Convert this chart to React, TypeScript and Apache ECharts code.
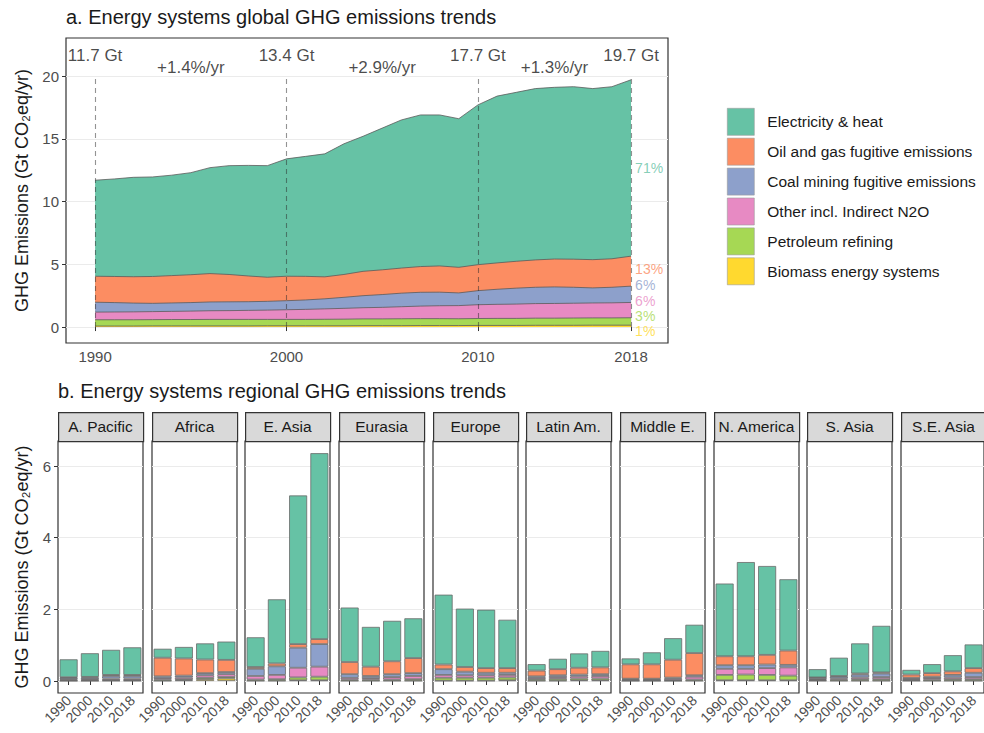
import React, { useEffect, useRef } from "react";
import * as echarts from "echarts";

// ---------- Data: panel a (global, Gt CO2eq/yr) ----------
const years = [1990,1991,1992,1993,1994,1995,1996,1997,1998,1999,2000,2001,2002,2003,2004,2005,2006,2007,2008,2009,2010,2011,2012,2013,2014,2015,2016,2017,2018];
const biomass = [0.08,0.08,0.08,0.09,0.09,0.09,0.09,0.09,0.09,0.1,0.1,0.1,0.1,0.1,0.11,0.11,0.11,0.12,0.12,0.12,0.13,0.13,0.13,0.14,0.14,0.14,0.15,0.15,0.15];
const petroleum = [0.5,0.5,0.5,0.5,0.51,0.51,0.52,0.52,0.52,0.51,0.51,0.51,0.52,0.53,0.54,0.54,0.55,0.55,0.55,0.54,0.55,0.56,0.56,0.57,0.57,0.58,0.58,0.58,0.59];
const otherN2O = [0.61,0.62,0.63,0.64,0.65,0.67,0.69,0.7,0.72,0.74,0.77,0.8,0.83,0.86,0.89,0.92,0.96,1.0,1.03,1.05,1.1,1.12,1.14,1.16,1.17,1.18,1.19,1.2,1.22];
const coal = [0.79,0.75,0.7,0.66,0.67,0.68,0.7,0.7,0.69,0.7,0.72,0.75,0.8,0.88,0.96,1.02,1.08,1.1,1.08,1.01,1.12,1.2,1.27,1.3,1.32,1.27,1.2,1.24,1.3];
const oilGas = [2.07,2.08,2.1,2.14,2.18,2.22,2.26,2.18,2.05,1.92,1.95,1.88,1.75,1.82,1.94,1.97,2.0,2.05,2.09,2.04,2.07,2.1,2.14,2.18,2.22,2.24,2.25,2.27,2.39];
const electricity = [7.65,7.77,7.92,7.93,8.0,8.13,8.44,8.67,8.81,8.89,9.35,9.56,9.8,10.41,10.76,11.29,11.8,12.08,12.03,11.84,12.73,13.29,13.46,13.65,13.68,13.74,13.63,13.71,14.05];

// stacking order bottom -> top
const seriesNames = [
  "Biomass energy systems",
  "Petroleum refining",
  "Other incl. Indirect N2O",
  "Coal mining fugitive emissions",
  "Oil and gas fugitive emissions",
  "Electricity & heat",
];
const globalSeries = [biomass, petroleum, otherN2O, coal, oilGas, electricity];
const colors = ["#ffd92f", "#a6d854", "#e78ac3", "#8da0cb", "#fc8d62", "#66c2a5"];

const markYears = [1990, 2000, 2010, 2018];
const totalLabels = ["11.7 Gt", "13.4 Gt", "17.7 Gt", "19.7 Gt"];
const growthYears = [1995, 2005, 2014];
const growthLabels = ["+1.4%/yr", "+2.9%/yr", "+1.3%/yr"];
const shareLabels = ["1%", "3%", "6%", "6%", "13%", "71%"];

// ---------- Data: panel b (regional) ----------
const regions = ["A. Pacific", "Africa", "E. Asia", "Eurasia", "Europe", "Latin Am.", "Middle E.", "N. America", "S. Asia", "S.E. Asia"];
const barYears = ["1990", "2000", "2010", "2018"];
const regBiomass = [
  [0.005,0.005,0.01,0.01],[0.01,0.02,0.05,0.07],[0.01,0.01,0.02,0.02],[0.01,0.01,0.01,0.01],[0.01,0.01,0.01,0.02],
  [0.01,0.01,0.02,0.02],[0.005,0.005,0.005,0.01],[0.02,0.02,0.02,0.02],[0.01,0.01,0.01,0.01],[0.01,0.01,0.01,0.01],
];
const regPetroleum = [
  [0.02,0.02,0.02,0.02],[0.03,0.03,0.04,0.04],[0.03,0.04,0.08,0.1],[0.03,0.03,0.03,0.04],[0.08,0.08,0.08,0.08],
  [0.04,0.05,0.05,0.05],[0.02,0.02,0.02,0.03],[0.15,0.16,0.15,0.13],[0.02,0.03,0.04,0.04],[0.02,0.03,0.04,0.04],
];
const regOther = [
  [0.02,0.03,0.04,0.04],[0.04,0.05,0.07,0.08],[0.1,0.12,0.27,0.28],[0.05,0.04,0.07,0.09],[0.08,0.07,0.07,0.07],
  [0.04,0.05,0.06,0.07],[0.02,0.02,0.04,0.08],[0.17,0.16,0.19,0.23],[0.02,0.03,0.05,0.06],[0.03,0.04,0.05,0.06],
];
const regCoal = [
  [0.04,0.04,0.07,0.07],[0.05,0.05,0.06,0.06],[0.2,0.24,0.56,0.63],[0.1,0.06,0.08,0.08],[0.16,0.1,0.07,0.06],
  [0.04,0.05,0.05,0.05],[0.02,0.02,0.03,0.04],[0.1,0.1,0.1,0.07],[0.04,0.05,0.08,0.1],[0.03,0.04,0.07,0.12],
];
const regOilGas = [
  [0.02,0.02,0.03,0.03],[0.52,0.48,0.38,0.34],[0.05,0.08,0.1,0.14],[0.34,0.26,0.36,0.42],[0.13,0.13,0.13,0.13],
  [0.16,0.17,0.19,0.19],[0.4,0.4,0.5,0.62],[0.25,0.25,0.27,0.4],[0.01,0.02,0.03,0.03],[0.09,0.1,0.1,0.13],
];
const regElectricity = [
  [0.5,0.66,0.7,0.77],[0.25,0.32,0.45,0.51],[0.83,1.79,4.15,5.19],[1.52,1.11,1.13,1.11],[1.95,1.63,1.63,1.35],
  [0.18,0.29,0.4,0.46],[0.165,0.335,0.6,0.79],[2.03,2.63,2.48,1.99],[0.23,0.51,0.84,1.3],[0.13,0.25,0.45,0.66],
];
const regionalSeries = [regBiomass, regPetroleum, regOther, regCoal, regOilGas, regElectricity];

// ---------- Layout ----------
const FONT = "'Liberation Sans', Arial, Helvetica, sans-serif";
const TOP = { left: 66, top: 38, width: 602, height: 305 };
const FACET = { left0: 58, step: 93.67, width: 85, stripTop: 412, top: 441, height: 252 };
const totalLabelY = 21.65;
const growthLabelY = 20.65;
const shareLabelY = [-0.32, 0.88, 2.08, 3.35, 4.62, 12.7];
const yTitle = "GHG Emissions (Gt CO\u2082eq/yr)";

export default function App() {
  const ref = useRef<HTMLDivElement>(null);

  useEffect(() => {
    if (!ref.current) return;
    const chart = echarts.init(ref.current, undefined, { renderer: "svg" });

    // cumulative sums (bottom -> top) for the layered area chart
    const cumulative = globalSeries.map((_, si) =>
      years.map((_, i) => {
        let s = 0;
        for (let k = 0; k <= si; k++) s += globalSeries[k][i];
        return Math.round(s * 1000) / 1000;
      })
    );

    const grids: any[] = [
      { left: TOP.left, top: TOP.top, width: TOP.width, height: TOP.height, show: true, borderColor: "#333", borderWidth: 1.2 },
    ];
    const xAxes: any[] = [
      {
        type: "value", gridIndex: 0, min: 1988.48, max: 2019.93,
        axisLine: { show: false },
        axisTick: { show: true, customValues: markYears, length: 4, lineStyle: { color: "#333" } },
        axisLabel: { customValues: markYears, formatter: (v: number) => String(v), color: "#4d4d4d", fontSize: 15, fontFamily: FONT, margin: 6 },
        splitLine: { show: false },
      },
    ];
    const yAxes: any[] = [
      {
        type: "value", gridIndex: 0, min: -1.27, max: 23.03,
        axisLine: { show: false },
        axisTick: { show: true, customValues: [0, 5, 10, 15, 20], length: 4, lineStyle: { color: "#333" } },
        axisLabel: { customValues: [0, 5, 10, 15, 20], color: "#4d4d4d", fontSize: 15, fontFamily: FONT, margin: 7 },
        splitLine: { show: true, lineStyle: { color: "#ebebeb", width: 1 } },
        name: yTitle, nameLocation: "middle", nameGap: 35, nameRotate: 90,
        nameTextStyle: { fontSize: 18, color: "#1a1a1a", fontFamily: FONT },
      },
    ];
    const series: any[] = [];

    // draw from the top layer down so lower layers paint over upper fills
    for (let si = globalSeries.length - 1; si >= 0; si--) {
      series.push({
        type: "line", name: seriesNames[si], xAxisIndex: 0, yAxisIndex: 0,
        data: years.map((y, i) => [y, cumulative[si][i]]),
        symbol: "none", smooth: false,
        itemStyle: { color: colors[si] },
        lineStyle: { color: "#5a5a5a", width: 0.8 },
        areaStyle: { color: colors[si], opacity: 1, origin: 0 },
        z: 2,
      });
    }
    series.push({
      type: "line", xAxisIndex: 0, yAxisIndex: 0, data: [], symbol: "none", z: 4,
      markLine: {
        silent: true, symbol: "none", label: { show: false },
        lineStyle: { type: [5, 4], color: "rgba(40,40,40,0.5)", width: 1.1 },
        data: markYears.map((y) => [{ coord: [y, 0] }, { coord: [y, 19.9] }]),
      },
    });

    series.push({
      type: "scatter", xAxisIndex: 0, yAxisIndex: 0, symbolSize: 0.1, silent: true, z: 5,
      itemStyle: { color: "transparent" },
      data: markYears.map((y) => [y, totalLabelY]),
      label: { show: true, position: "inside", formatter: (p: any) => totalLabels[p.dataIndex], color: "#1a1a1a", fontSize: 17, fontFamily: FONT },
    });
    series.push({
      type: "scatter", xAxisIndex: 0, yAxisIndex: 0, symbolSize: 0.1, silent: true, z: 5,
      itemStyle: { color: "transparent" },
      data: growthYears.map((y) => [y, growthLabelY]),
      label: { show: true, position: "inside", formatter: (p: any) => growthLabels[p.dataIndex], color: "#1a1a1a", fontSize: 17, fontFamily: FONT },
    });
    series.push({
      type: "scatter", xAxisIndex: 0, yAxisIndex: 0, symbolSize: 0.1, silent: true, z: 5,
      itemStyle: { color: "transparent" },
      data: shareLabels.map((t, i) => ({ value: [2018, shareLabelY[i]], label: { color: colors[i] } })),
      label: { show: true, position: "right", distance: 4, formatter: (p: any) => shareLabels[p.dataIndex], fontSize: 14, lineHeight: 14, fontFamily: FONT },
    });

    const graphics: any[] = [
      { type: "text", left: 66, top: 7, style: { text: "a. Energy systems global GHG emissions trends", fontSize: 20, fill: "#1a1a1a", fontFamily: FONT } },
      { type: "text", left: 58, top: 381, style: { text: "b. Energy systems regional GHG emissions trends", fontSize: 20, fill: "#1a1a1a", fontFamily: FONT } },
    ];

    regions.forEach((reg, r) => {
      const left = Math.round(FACET.left0 + r * FACET.step);
      const gi = r + 1;
      grids.push({ left, top: FACET.top, width: FACET.width, height: FACET.height, show: true, borderColor: "#333", borderWidth: 1.2 });
      xAxes.push({
        type: "category", gridIndex: gi, data: barYears,
        axisLine: { show: false },
        axisTick: { show: true, alignWithLabel: true, length: 4, lineStyle: { color: "#333" } },
        axisLabel: { interval: 0, rotate: 45, color: "#4d4d4d", fontSize: 14, fontFamily: FONT, margin: 5 },
        splitLine: { show: false },
      });
      yAxes.push({
        type: "value", gridIndex: gi, min: -0.335, max: 6.7,
        axisLine: { show: false },
        axisTick: { show: r === 0, customValues: [0, 2, 4, 6], length: 4, lineStyle: { color: "#333" } },
        axisLabel: { show: r === 0, customValues: [0, 2, 4, 6], color: "#4d4d4d", fontSize: 15, fontFamily: FONT, margin: 7 },
        splitLine: { show: true, lineStyle: { color: "#ebebeb", width: 1 } },
        ...(r === 0
          ? { name: yTitle, nameLocation: "middle", nameGap: 27, nameRotate: 90, nameTextStyle: { fontSize: 18, color: "#1a1a1a", fontFamily: FONT } }
          : {}),
      });
      regionalSeries.forEach((arr, si) => {
        series.push({
          type: "bar", name: seriesNames[si], xAxisIndex: gi, yAxisIndex: gi, stack: "reg" + r,
          data: arr[r], barWidth: 18,
          itemStyle: { color: colors[si], borderColor: "#6a6a6a", borderWidth: 0.8 },
        });
      });
      graphics.push({
        type: "rect", left, top: FACET.stripTop,
        shape: { x: 0, y: 0, width: FACET.width, height: FACET.top - FACET.stripTop },
        style: { fill: "#d9d9d9", stroke: "#333", lineWidth: 1.2 },
      });
      graphics.push({
        type: "text", x: left + FACET.width / 2, y: (FACET.stripTop + FACET.top) / 2,
        style: { text: reg, fontSize: 15.5, fill: "#1a1a1a", fontFamily: FONT, align: "center", verticalAlign: "middle" },
      });
    });

    chart.setOption({
      animation: false,
      backgroundColor: "#ffffff",
      textStyle: { fontFamily: FONT },
      grid: grids,
      xAxis: xAxes,
      yAxis: yAxes,
      legend: {
        show: true, orient: "vertical", left: 727, top: 108, padding: 0,
        icon: "rect", itemWidth: 27, itemHeight: 27, itemGap: 2.3,
        data: [...seriesNames].reverse(),
        selectedMode: false,
        itemStyle: { borderColor: "#9a9a9a", borderWidth: 0.6 },
        textStyle: { fontSize: 15.5, color: "#1a1a1a", fontFamily: FONT, padding: [0, 0, 0, 8] },
      },
      graphic: graphics,
      series,
    });

    return () => chart.dispose();
  }, []);

  return <div ref={ref} style={{ position: "absolute", left: 0, top: 0, width: 984, height: 733, background: "#fff" }} />;
}
